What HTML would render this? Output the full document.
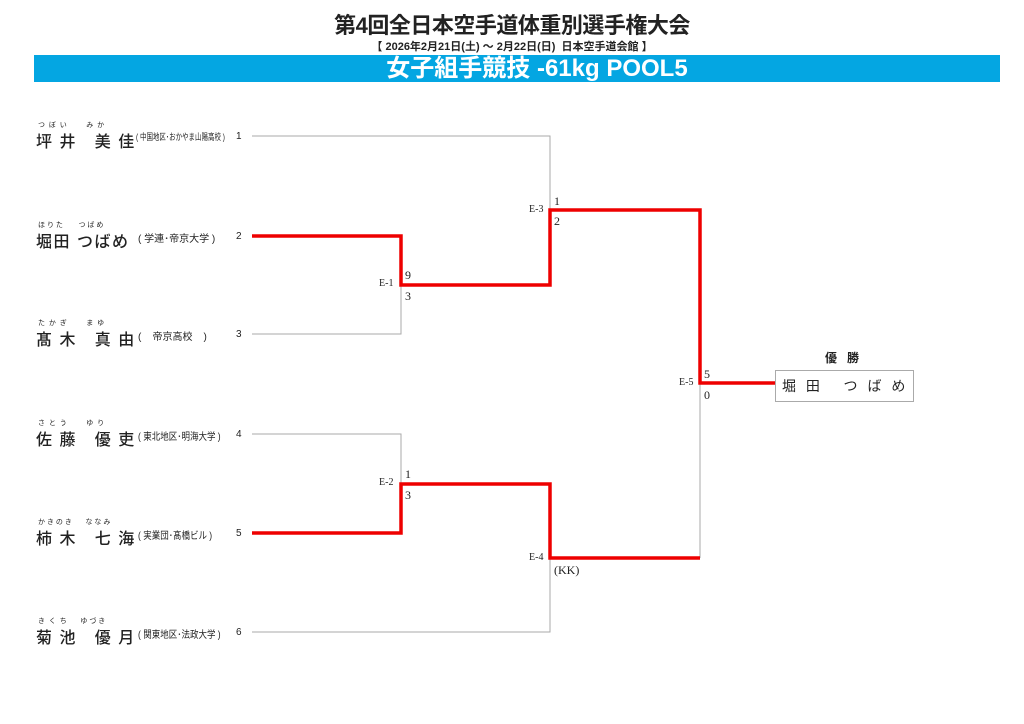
<!DOCTYPE html>
<html><head><meta charset="utf-8"><style>
body{margin:0;width:1024px;height:724px;background:#fff;position:relative;overflow:hidden;font-family:"Liberation Sans","Noto Sans CJK JP",sans-serif;color:#222}
.a{position:absolute;white-space:nowrap}
.nm{font-size:16px;letter-spacing:1.5px;font-weight:500}
.f{font-size:7px}
.aff{font-size:10px;transform-origin:0 50%}
.num{font-size:10px}
.sc{font-family:"Liberation Serif","Noto Serif CJK SC",serif;font-size:12px}
</style></head><body>
<div class="a" style="left:0;width:1024px;top:8px;text-align:center;font-size:22px;font-weight:bold;letter-spacing:-0.5px">第4回全日本空手道体重別選手権大会</div>
<div class="a" style="left:0;width:1024px;top:38px;text-align:center;font-size:11px;font-weight:bold">【 2026年2月21日(土) ～ 2月22日(日)&nbsp; 日本空手道会館 】</div>
<div class="a" style="left:34px;top:55px;width:966px;height:27px;background:#04a6e2"></div>
<div class="a" style="left:25px;width:1024px;top:53px;text-align:center;font-size:24px;font-weight:bold;color:#fff;line-height:32px">女子組手競技 -61kg POOL5</div>

<svg class="a" style="left:0;top:0" width="1024" height="724">
<g stroke="#aaa" stroke-width="1" fill="none">
<path d="M252 136H550V210M401 285V334H252M252 434H401V484M550 558V632H252M700 383V558"/>
<rect x="775.5" y="370.5" width="138" height="31"/>
</g>
<g stroke="#e00" stroke-width="3.5" fill="none">
<path d="M252 236H401V285H550V210H700V383H775"/>
<path d="M252 533H401V484H550V558H700"/>
</g>
</svg>

<div class="a nm" style="left:36px;top:128px">坪 井&nbsp;&nbsp; 美 佳</div>
<div class="a f" style="left:38px;top:120px">つ&nbsp;&nbsp;ぼ&nbsp;&nbsp;い&nbsp;&nbsp;&nbsp;&nbsp;&nbsp;&nbsp;&nbsp;&nbsp;&nbsp;&nbsp;み&nbsp;&nbsp;か</div>
<div class="a aff" style="left:136px;top:130px;font-size:9px;transform:scaleX(0.72)">( 中国地区･おかやま山陽高校 )</div>
<div class="a num" style="left:236px;top:131px">1</div>

<div class="a nm" style="left:36px;top:228px">堀田 つばめ</div>
<div class="a f" style="left:38px;top:220px">ほ&nbsp;り&nbsp;た&nbsp;&nbsp;&nbsp;&nbsp;&nbsp;&nbsp;&nbsp;&nbsp;つ&nbsp;ば&nbsp;め</div>
<div class="a aff" style="left:138px;top:230px">( 学連･帝京大学 )</div>
<div class="a num" style="left:236px;top:231px">2</div>

<div class="a nm" style="left:36px;top:326px">髙 木&nbsp;&nbsp; 真 由</div>
<div class="a f" style="left:38px;top:318px">た&nbsp;&nbsp;か&nbsp;&nbsp;ぎ&nbsp;&nbsp;&nbsp;&nbsp;&nbsp;&nbsp;&nbsp;&nbsp;&nbsp;&nbsp;ま&nbsp;&nbsp;ゆ</div>
<div class="a aff" style="left:138px;top:328px">(&nbsp;&nbsp;&nbsp; 帝京高校&nbsp;&nbsp;&nbsp; )</div>
<div class="a num" style="left:236px;top:329px">3</div>

<div class="a nm" style="left:36px;top:426px">佐 藤&nbsp;&nbsp; 優 吏</div>
<div class="a f" style="left:38px;top:418px">さ&nbsp;&nbsp;と&nbsp;&nbsp;う&nbsp;&nbsp;&nbsp;&nbsp;&nbsp;&nbsp;&nbsp;&nbsp;&nbsp;&nbsp;ゆ&nbsp;&nbsp;り</div>
<div class="a aff" style="left:138px;top:428px;transform:scaleX(0.85)">( 東北地区･明海大学 )</div>
<div class="a num" style="left:236px;top:429px">4</div>

<div class="a nm" style="left:36px;top:525px">柿 木&nbsp;&nbsp; 七 海</div>
<div class="a f" style="left:38px;top:517px">か&nbsp;き&nbsp;の&nbsp;き&nbsp;&nbsp;&nbsp;&nbsp;&nbsp;&nbsp;&nbsp;な&nbsp;な&nbsp;み</div>
<div class="a aff" style="left:138px;top:527px;transform:scaleX(0.85)">( 実業団･髙橋ビル )</div>
<div class="a num" style="left:236px;top:528px">5</div>

<div class="a nm" style="left:36px;top:624px">菊 池&nbsp;&nbsp; 優 月</div>
<div class="a f" style="left:38px;top:616px">き&nbsp;&nbsp;く&nbsp;&nbsp;ち&nbsp;&nbsp;&nbsp;&nbsp;&nbsp;&nbsp;&nbsp;ゆ&nbsp;づ&nbsp;き</div>
<div class="a aff" style="left:138px;top:626px;transform:scaleX(0.85)">( 関東地区･法政大学 )</div>
<div class="a num" style="left:236px;top:627px">6</div>

<div class="a sc" style="left:379px;top:278px;font-size:10px">E-1</div>
<div class="a sc" style="left:405px;top:268px">9</div>
<div class="a sc" style="left:405px;top:289px">3</div>
<div class="a sc" style="left:379px;top:477px;font-size:10px">E-2</div>
<div class="a sc" style="left:405px;top:467px">1</div>
<div class="a sc" style="left:405px;top:488px">3</div>
<div class="a sc" style="left:529px;top:204px;font-size:10px">E-3</div>
<div class="a sc" style="left:554px;top:194px">1</div>
<div class="a sc" style="left:554px;top:214px">2</div>
<div class="a sc" style="left:529px;top:552px;font-size:10px">E-4</div>
<div class="a sc" style="left:554px;top:563px">(KK)</div>
<div class="a sc" style="left:679px;top:377px;font-size:10px">E-5</div>
<div class="a sc" style="left:704px;top:367px">5</div>
<div class="a sc" style="left:704px;top:388px">0</div>

<div class="a" style="left:825px;top:349px;font-size:12px;font-weight:bold">優&nbsp;&nbsp; 勝</div>
<div class="a" style="left:782px;top:376px;font-size:14px;letter-spacing:3px">堀 田&nbsp;&nbsp; つ ば め</div>
</body></html>
